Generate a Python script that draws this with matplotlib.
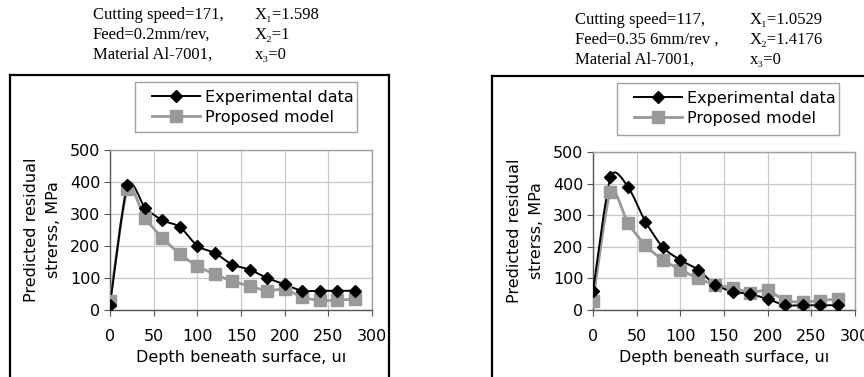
import numpy as np
import matplotlib
matplotlib.use("Agg")
import matplotlib.pyplot as plt
from matplotlib.path import Path
from matplotlib.patches import PathPatch, Rectangle
from matplotlib.lines import Line2D

plt.rcParams['font.family'] = ['DejaVu Sans']

# depth beneath surface
depth = [0, 20, 40, 60, 80, 100, 120, 140, 160, 180, 200, 220, 240, 260, 280]

# left panel (cutting speed 171)
exp_left = [15, 390, 320, 280, 260, 200, 178, 142, 126, 100, 80, 60, 60, 60, 60]
model_left = [28, 378, 288, 225, 175, 137, 112, 90, 75, 60, 65, 40, 30, 30, 35]

# right panel (cutting speed 117)
exp_right = [60, 420, 390, 280, 198, 158, 128, 80, 58, 50, 35, 15, 15, 15, 15]
model_right = [30, 375, 275, 205, 158, 128, 100, 80, 70, 55, 62, 30, 25, 30, 35]

header_left = ["Cutting speed=171,", "Feed=0.2mm/rev,", "Material Al-7001,"]
coef_left = ["X\u2081=1.598", "X\u2082=1", "x\u2083=0"]
header_right = ["Cutting speed=117,", "Feed=0.35 6mm/rev ,", "Material Al-7001,"]
coef_right = ["X\u2081=1.0529", "X\u2082=1.4176", "x\u2083=0"]

SERIF = ['Liberation Serif', 'DejaVu Serif']

W, H = 864, 377
fig = plt.figure(figsize=(W / 100, H / 100), dpi=100)


def fx(x):
    return x / W


def fy(y):
    return 1 - y / H


def smooth_path(xs, ys, k=8.0):
    # Catmull-Rom style smoothing, like Excel's "smoothed line"
    xs = np.asarray(xs, float)
    ys = np.asarray(ys, float)
    verts = [(xs[0], ys[0])]
    codes = [Path.MOVETO]
    n = len(xs)
    for i in range(n - 1):
        p0 = i - 1 if i > 0 else i
        p3 = i + 2 if i + 2 < n else i + 1
        c1 = (xs[i] + (xs[i + 1] - xs[p0]) / k, ys[i] + (ys[i + 1] - ys[p0]) / k)
        c2 = (xs[i + 1] - (xs[p3] - xs[i]) / k, ys[i + 1] - (ys[p3] - ys[i]) / k)
        verts += [c1, c2, (xs[i + 1], ys[i + 1])]
        codes += [Path.CURVE4] * 3
    return Path(verts, codes)


def box_px(x0, y0, x1, y1, **kw):
    fig.add_artist(Rectangle((fx(x0), fy(y1)), fx(x1 - x0), fy(y0) - fy(y1),
                             transform=fig.transFigure, fill=False, **kw))


def panel(frame, box, legend_box, text_xy, header, coef, exp, model):
    # outer frame: open at the bottom, it runs off the picture
    left, top, right = frame
    for xs, ys in [([left, left], [H, top]), ([left, right], [top, top]), ([right, right], [top, H])]:
        fig.add_artist(Line2D([fx(v) for v in xs], [fy(v) for v in ys],
                              transform=fig.transFigure, color='black', lw=1.6,
                              solid_capstyle='projecting'))

    # header text
    tx, ty, cx = text_xy
    for i, (h, c) in enumerate(zip(header, coef)):
        fig.text(fx(tx), fy(ty + 20 * i), h, family=SERIF, fontsize=12, va='center', ha='left')
        fig.text(fx(cx), fy(ty + 20 * i), c, family=SERIF, fontsize=12, va='center', ha='left')

    x0, x1, ytop, ybot = box
    ax = fig.add_axes([fx(x0), fy(ybot), fx(x1 - x0), fy(ytop) - fy(ybot)])
    ax.set_xlim(0, 300)
    ax.set_ylim(0, 500)
    ax.set_xticks(range(0, 301, 50))
    ax.set_yticks(range(0, 501, 100))
    ax.grid(True, color='#c8c8c8', lw=0.9)
    ax.set_axisbelow(True)
    for s in ax.spines.values():
        s.set_color('#a0a0a0')
        s.set_linewidth(1.0)
    ax.spines['bottom'].set_color('#555555')
    ax.spines['left'].set_color('#555555')
    ax.tick_params(axis='x', length=4, pad=10, labelsize=11.5, color='#555555')
    ax.tick_params(axis='y', length=4, pad=3, labelsize=11.5, color='#555555')

    ax.add_patch(PathPatch(smooth_path(depth, model), fill=False, ec='#999999', lw=2.0, zorder=3))
    ax.add_patch(PathPatch(smooth_path(depth, exp), fill=False, ec='black', lw=1.4, zorder=4))
    ax.plot(depth, model, ls='none', marker='s', ms=8, color='#999999', zorder=5)
    ax.plot(depth, exp, ls='none', marker='D', ms=6.5, color='black', zorder=6)

    # legend: separate frame, legend itself without frame
    h1, = ax.plot([], [], color='black', lw=1.4, marker='D', ms=6.5)
    h2, = ax.plot([], [], color='#999999', lw=2.0, marker='s', ms=8)
    lx0, ly0, lx1, ly1 = legend_box
    box_px(lx0, ly0, lx1, ly1, lw=1.0, ec='#a0a0a0')
    fig.legend([h1, h2], ["Experimental data", "Proposed model"],
               loc='upper left', bbox_to_anchor=(fx(lx0 + 17), fy(ly0 + 8)),
               fontsize=11.5, handlelength=3.0, handletextpad=0.3,
               borderpad=0, labelspacing=0.3, frameon=False, borderaxespad=0)

    ax.set_xlabel("Depth beneath surface, uı", fontsize=11.5, labelpad=4)
    ax.set_ylabel("Predicted residual\nstrerss, MPa", fontsize=11.5, labelpad=6, linespacing=1.6)
    return ax


panel((10, 75, 389), (110, 372, 150, 310), (135, 82, 357, 132), (93, 15, 255),
      header_left, coef_left, exp_left, model_left)
panel((492, 76, 900), (593, 855, 152, 310), (617, 83, 839, 135), (575, 20, 750),
      header_right, coef_right, exp_right, model_right)

fig.savefig("out.png", dpi=100)
